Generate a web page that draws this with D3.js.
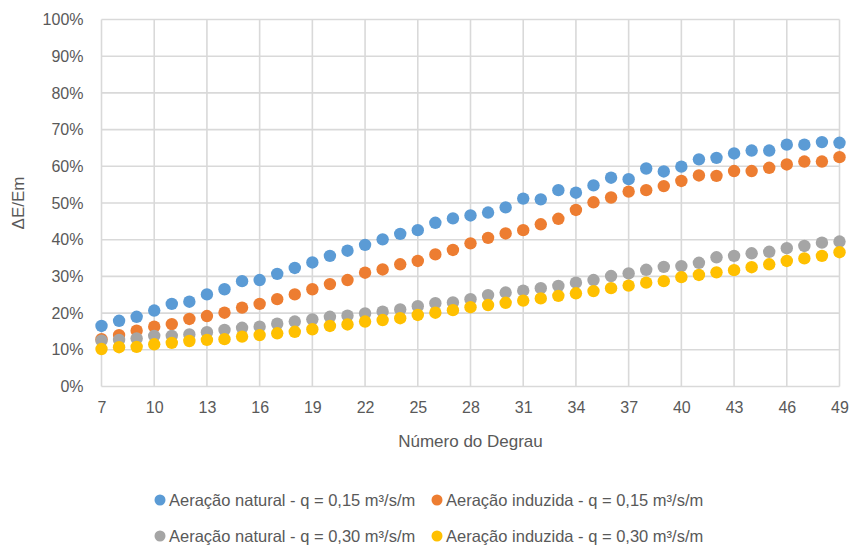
<!DOCTYPE html>
<html>
<head>
<meta charset="utf-8">
<script src="https://cdn.jsdelivr.net/npm/d3@7"></script>
<style>
  html, body { margin: 0; padding: 0; background: #fff; }
  svg text { font-family: "Liberation Sans Narrow", "Arial Narrow", "Liberation Sans", Arial, sans-serif; fill: #595959; }
</style>
</head>
<body>
<svg id="chart" width="850" height="549"></svg>
<script>
// Step numbers (Número do Degrau)
const degraus = d3.range(7, 50);

// ΔE/Em per step, in percent
const naturalQ015 = [16.5, 17.9, 19.0, 20.7, 22.5, 23.1, 25.1, 26.5, 28.7, 29.0, 30.7, 32.3, 33.8, 35.6,
  37.0, 38.6, 40.1, 41.6, 42.6, 44.6, 45.8, 46.6, 47.4, 48.8, 51.2, 51.0, 53.5, 52.8, 54.8,
  56.9, 56.5, 59.4, 58.6, 59.9, 61.9, 62.3, 63.5, 64.3, 64.3, 65.9, 65.9, 66.6, 66.4];
const induzidaQ015 = [12.9, 14.0, 15.2, 16.3, 17.0, 18.4, 19.2, 20.1, 21.5, 22.5, 23.8, 25.1, 26.5, 27.9,
  29.0, 31.0, 31.9, 33.3, 34.2, 36.0, 37.2, 39.0, 40.5, 41.7, 42.6, 44.2, 45.7, 48.1, 50.2,
  51.5, 53.1, 53.5, 54.6, 56.0, 57.5, 57.4, 58.7, 58.7, 59.6, 60.5, 61.3, 61.3, 62.5];
const naturalQ030 = [12.5, 12.7, 13.1, 13.8, 13.8, 14.2, 14.8, 15.4, 16.0, 16.3, 17.1, 17.7, 18.3, 19.0,
  19.3, 19.9, 20.4, 21.0, 21.9, 22.7, 22.9, 23.8, 24.9, 25.6, 26.1, 26.8, 27.4, 28.3, 29.0,
  30.1, 30.8, 31.8, 32.6, 32.8, 33.7, 35.2, 35.6, 36.3, 36.7, 37.7, 38.3, 39.2, 39.5];
const induzidaQ030 = [10.2, 10.7, 10.8, 11.5, 11.9, 12.4, 12.7, 12.9, 13.6, 14.0, 14.5, 14.9, 15.6, 16.5,
  16.9, 17.7, 18.1, 18.6, 19.5, 20.1, 20.8, 21.6, 22.2, 22.8, 23.4, 24.0, 24.7, 25.4, 26.0,
  26.8, 27.5, 28.3, 28.7, 29.8, 30.4, 31.1, 31.7, 32.5, 33.3, 34.2, 34.9, 35.6, 36.6];

const seriesNames = [
  "Aeração natural - q = 0,15 m³/s/m",
  "Aeração induzida - q = 0,15 m³/s/m",
  "Aeração natural - q = 0,30 m³/s/m",
  "Aeração induzida - q = 0,30 m³/s/m"
];
const seriesValues = [naturalQ015, induzidaQ015, naturalQ030, induzidaQ030];
const seriesColors = ["#5b9bd5", "#ed7d31", "#a5a5a5", "#ffc000"];

const xTicks = d3.range(7, 50, 3);
const yTicks = d3.range(0, 101, 10);

const svg = d3.select("#chart");

const x = d3.scaleLinear().domain([7, 49]).range([101.5, 839.5]);
const y = d3.scaleLinear().domain([0, 100]).range([386.5, 19.5]);

// gridlines
const grid = svg.append("g").attr("stroke", "#d9d9d9").attr("stroke-width", 1.6);
grid.selectAll("line.h").data(yTicks).join("line")
  .attr("x1", x(7)).attr("x2", x(49))
  .attr("y1", d => y(d)).attr("y2", d => y(d));
grid.selectAll("line.v").data(xTicks).join("line")
  .attr("x1", d => x(d)).attr("x2", d => x(d))
  .attr("y1", y(0)).attr("y2", y(100));

// axes (labels only, Excel style)
const yAxis = svg.append("g")
  .attr("transform", `translate(${x(7) - 18},0)`)
  .call(d3.axisLeft(y).tickValues(yTicks).tickSize(0).tickFormat(d => d + "%"));
yAxis.select(".domain").remove();
yAxis.selectAll("text").attr("font-size", 16).attr("dx", 0).attr("x", 0);

const xAxis = svg.append("g")
  .attr("transform", `translate(0,${y(0) + 12})`)
  .call(d3.axisBottom(x).tickValues(xTicks).tickSize(0).tickFormat(d3.format("d")));
xAxis.select(".domain").remove();
xAxis.selectAll("text").attr("font-size", 16);

svg.selectAll(".tick text").style("fill", "#595959")
  .style("font-family", '"Liberation Sans Narrow", "Liberation Sans", Arial, sans-serif');

// axis titles
svg.append("text")
  .attr("x", (x(7) + x(49)) / 2).attr("y", 447)
  .attr("text-anchor", "middle").attr("font-size", 17)
  .text("Número do Degrau");
svg.append("text")
  .attr("transform", `translate(24,${y(50)}) rotate(-90)`)
  .attr("text-anchor", "middle").attr("font-size", 17)
  .text("ΔE/Em");

// points
seriesValues.forEach((vals, i) => {
  svg.append("g").selectAll("circle").data(vals).join("circle")
    .attr("cx", (d, j) => x(degraus[j]))
    .attr("cy", d => y(d))
    .attr("r", 6.2)
    .attr("fill", seriesColors[i]);
});

// legend
const legendPos = [[160, 500], [437, 500], [160, 536], [437, 536]];
const legend = svg.append("g");
seriesNames.forEach((name, i) => {
  const [lx, ly] = legendPos[i];
  legend.append("circle").attr("cx", lx).attr("cy", ly).attr("r", 5.5).attr("fill", seriesColors[i]);
  legend.append("text").attr("x", lx + 9).attr("y", ly).attr("dy", "0.35em")
    .attr("font-size", 16.5).text(name);
});
</script>
</body>
</html>
